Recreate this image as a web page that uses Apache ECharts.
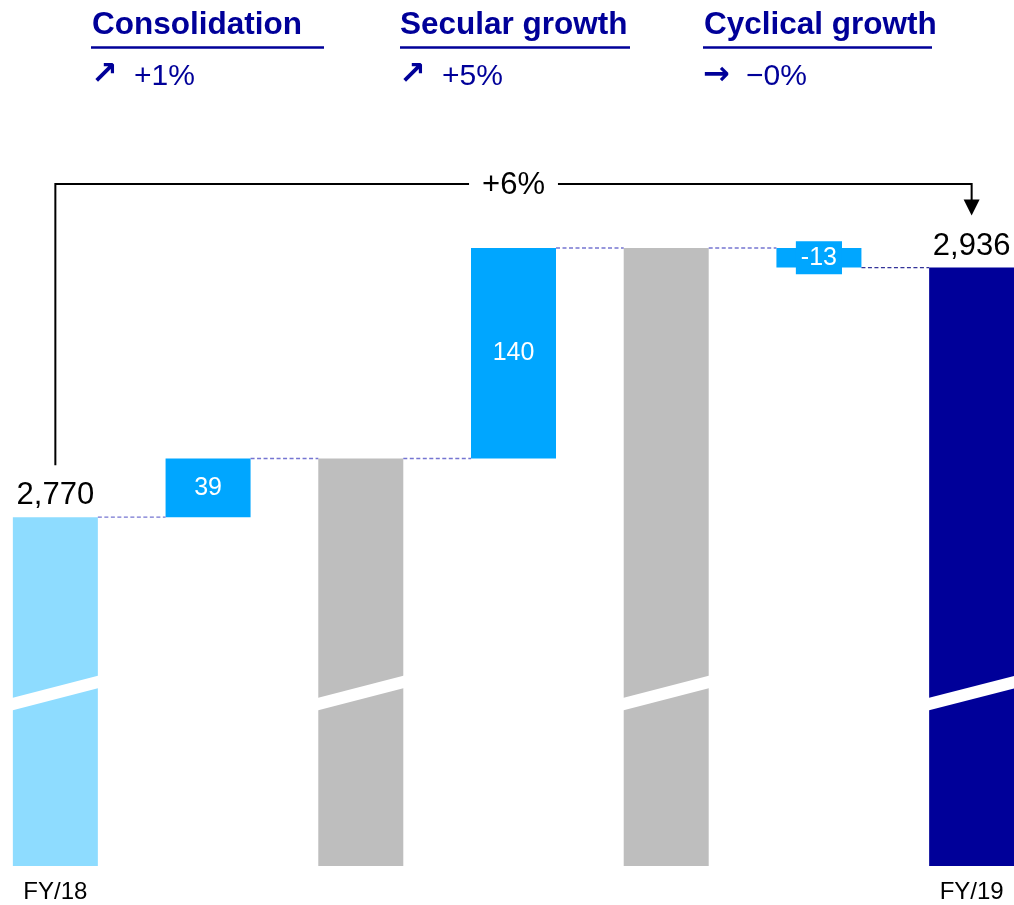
<!DOCTYPE html>
<html>
<head>
<meta charset="utf-8">
<script src="https://cdn.jsdelivr.net/npm/echarts@6/dist/echarts.min.js"></script>
<style>
  html, body { margin: 0; padding: 0; background: #fff; }
  #chart { width: 1014px; height: 905px; }
</style>
</head>
<body>
<div id="chart"></div>
<script>
// data
const categories = ['FY/18', 'Consolidation', 'Subtotal 1', 'Secular growth', 'Subtotal 2', 'Cyclical growth', 'FY/19'];
const barValues = [2770, 39, 2809, 140, 2949, -13, 2936];
const barKinds = ['start', 'delta', 'sub', 'delta', 'sub', 'delta', 'end'];
const headerNames = ['Consolidation', 'Secular growth', 'Cyclical growth'];
const headerArrows = ['\u2197', '\u2197', '\u2192'];
const headerChanges = ['+1%', '+5%', '\u22120%'];
const totalChange = '+6%';
const axisMin = 2538;
const axisMax = 2949;
const breakLevel = 2653; // where the axis break slash is drawn

const NAVY = '#000099';
const kindColor = { start: '#8EDCFF', delta: '#00A6FF', sub: '#BEBEBE', end: '#000099' };
const FONT = "'Liberation Sans', Arial, sans-serif";
const BAR_W = 85;

// build waterfall pieces
let running = 0;
const baseData = [];
const barData = [];
const levels = [];
barValues.forEach((v, i) => {
  const kind = barKinds[i];
  let item;
  if (kind === 'delta') {
    baseData.push(v >= 0 ? running : running + v);
    item = { value: Math.abs(v) };
    running += v;
  } else {
    baseData.push(0);
    item = { value: v };
    running = v;
  }
  item.itemStyle = { color: kindColor[kind] };
  if (kind === 'delta') {
    item.label = {
      show: true, position: 'inside', color: '#fff', fontSize: 25, fontFamily: FONT,
      formatter: String(v)
    };
    if (v < 0) {
      item.label.backgroundColor = kindColor.delta;
      item.label.padding = [4, 5, 4, 5];
    }
  } else if (kind === 'start' || kind === 'end') {
    item.label = {
      show: true, position: 'top', distance: 6, color: '#000', fontSize: 31, fontFamily: FONT,
      formatter: v.toLocaleString('en-US')
    };
  }
  barData.push(item);
  levels.push(running);
});

const connectorData = levels.slice(0, levels.length - 1).map((lv, i) => [i, lv]);
const breakData = barKinds.map((k, i) => [i, breakLevel]).filter((d, i) => barKinds[i] !== 'delta');
const startIdx = 0, endIdx = barValues.length - 1;

const chart = echarts.init(document.getElementById('chart'));

// header block
const headerX = [92, 400, 704];
const graphic = [];
headerNames.forEach((name, i) => {
  graphic.push({
    type: 'text', left: headerX[i], top: 9,
    style: { text: name, font: 'bold 31.5px ' + FONT, fill: NAVY }
  });
  graphic.push({
    type: 'text', x: headerX[i] - 1, y: 76,
    style: { text: headerArrows[i], font: 'bold 32px DejaVu Sans', fill: NAVY, verticalAlign: 'middle' }
  });
  graphic.push({
    type: 'text', left: headerX[i] + 42, top: 62,
    style: { text: headerChanges[i], font: '30px ' + FONT, fill: NAVY }
  });
});
graphic.push({ type: 'line', shape: { x1: 91, y1: 47.5, x2: 324, y2: 47.5 }, style: { stroke: NAVY, lineWidth: 2.5 } });
graphic.push({ type: 'line', shape: { x1: 400, y1: 47.5, x2: 630, y2: 47.5 }, style: { stroke: NAVY, lineWidth: 2.5 } });
graphic.push({ type: 'line', shape: { x1: 703, y1: 47.5, x2: 932, y2: 47.5 }, style: { stroke: NAVY, lineWidth: 2.5 } });

const option = {
  animation: false,
  graphic: graphic,
  grid: { left: -21, right: -34, top: 248, bottom: 39, outerBoundsMode: 'none', containLabel: false },
  xAxis: {
    type: 'category',
    data: categories,
    axisLine: { show: false },
    axisTick: { show: false },
    axisLabel: {
      interval: 0, margin: 14, fontSize: 24, color: '#000', fontFamily: FONT,
      formatter: (v, i) => (i === startIdx || i === endIdx ? v : '')
    }
  },
  yAxis: { type: 'value', min: axisMin, max: axisMax, show: false, splitLine: { show: false } },
  series: [
    {
      type: 'bar', stack: 'wf', barWidth: BAR_W, data: baseData,
      itemStyle: { color: 'transparent' }, silent: true
    },
    {
      type: 'bar', stack: 'wf', barWidth: BAR_W, data: barData
    },
    {
      // dashed connectors between bars
      type: 'custom', data: connectorData, z: 3, silent: true,
      encode: { x: 0, y: 1 },
      renderItem: (params, api) => {
        const p = api.coord([api.value(0), api.value(1)]);
        const step = api.size([1, 0])[0];
        const last = api.value(0) === endIdx - 1;
        return {
          type: 'line',
          shape: { x1: p[0] + BAR_W / 2, y1: p[1], x2: p[0] + step - BAR_W / 2, y2: p[1] },
          style: { stroke: last ? '#333399' : '#7575D1', lineWidth: 1.3, lineDash: [4, 2.5] }
        };
      }
    },
    {
      // axis break slashes
      type: 'custom', data: breakData, z: 4, silent: true,
      encode: { x: 0, y: 1 },
      renderItem: (params, api) => {
        const p = api.coord([api.value(0), api.value(1)]);
        const l = p[0] - BAR_W / 2 - 1, r = p[0] + BAR_W / 2 + 1;
        const rise = 11.25, half = 6.25;
        return {
          type: 'polygon',
          shape: { points: [[l, p[1] + rise - half], [r, p[1] - rise - half], [r, p[1] - rise + half], [l, p[1] + rise + half]] },
          style: { fill: '#fff' }
        };
      }
    },
    {
      // overall change bracket
      type: 'custom', data: [[startIdx, barValues[startIdx], endIdx, barValues[endIdx]]], z: 5, silent: true,
      clip: false,
      encode: { x: [0, 2], y: [1, 3] },
      renderItem: (params, api) => {
        const a = api.coord([api.value(0), api.value(1)]);
        const b = api.coord([api.value(2), api.value(3)]);
        const peak = api.coord([0, Math.max(...levels)]);
        const lineY = peak[1] - 64;
        const startY = a[1] - 52;
        const tipY = b[1] - 52;
        const midX = (a[0] + b[0]) / 2;
        const lineStyle = { stroke: '#000', lineWidth: 2, fill: null };
        return {
          type: 'group',
          children: [
            { type: 'polyline', shape: { points: [[a[0], startY], [a[0], lineY], [b[0], lineY], [b[0], tipY - 14]] }, style: lineStyle },
            { type: 'polygon', shape: { points: [[b[0] - 8, tipY - 16], [b[0] + 8, tipY - 16], [b[0], tipY]] }, style: { fill: '#000' } },
            {
              type: 'text',
              style: {
                text: totalChange, x: midX, y: lineY + 1, align: 'center', verticalAlign: 'middle',
                font: '31px ' + FONT, fill: '#000', backgroundColor: '#fff', padding: [0, 13]
              }
            }
          ]
        };
      }
    }
  ]
};

chart.setOption(option);
</script>
</body>
</html>
